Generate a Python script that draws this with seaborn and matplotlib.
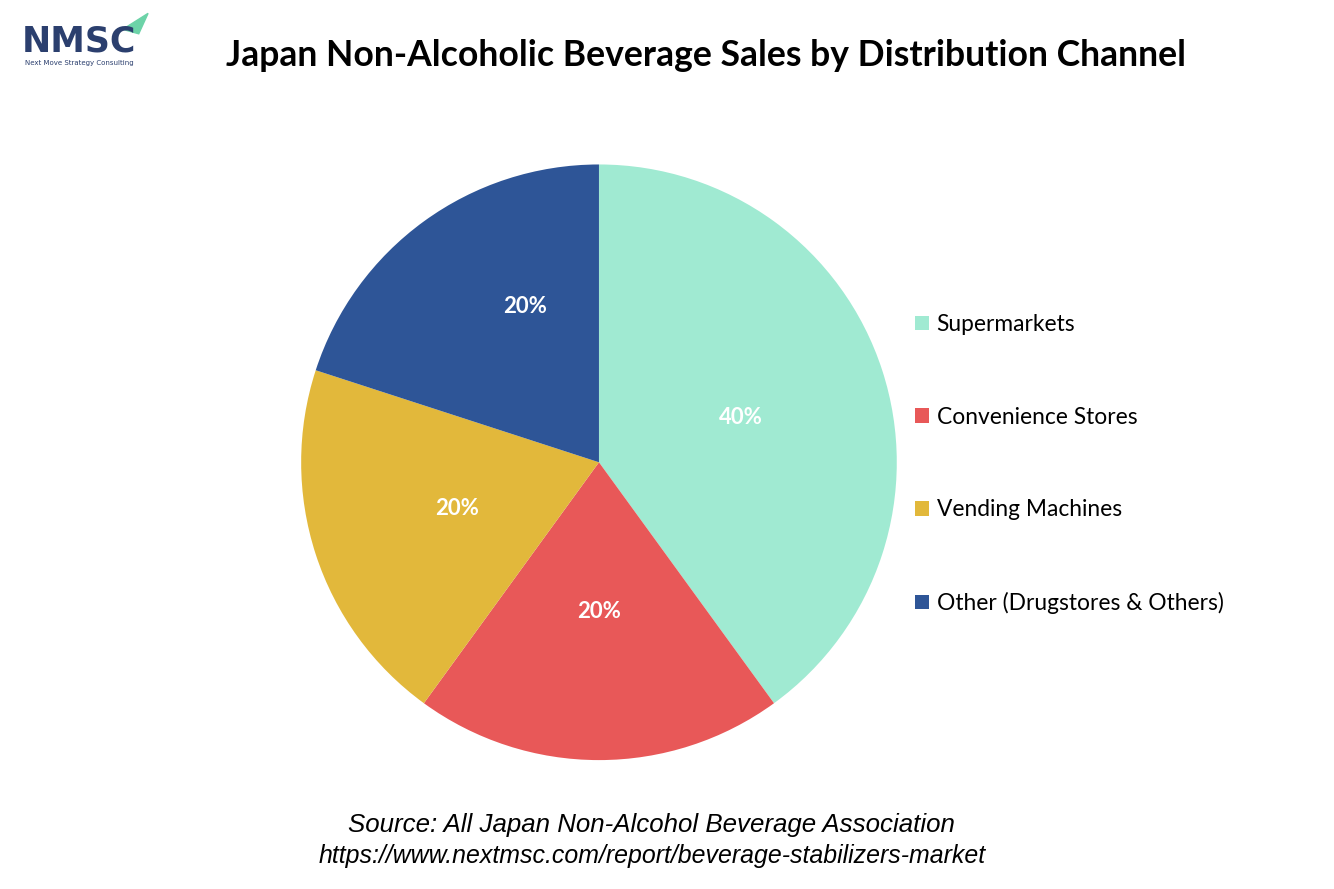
import matplotlib
matplotlib.use('Agg')
import matplotlib.pyplot as plt
import seaborn as sns
from matplotlib.patches import Polygon

sns.set_theme(style='white')
plt.rcParams['font.family'] = ['Lato', 'DejaVu Sans']

# data
kanalen = ['Supermarkets', 'Convenience Stores', 'Vending Machines', 'Other (Drugstores & Others)']
aandeel = [40, 20, 20, 20]
kleuren = ['#A0EAD2', '#E85858', '#E2B83B', '#2E5597']

fig = plt.figure(figsize=(13.34, 8.89), dpi=100)
fig.patch.set_facecolor('white')
ax = fig.add_axes([0.2256, 0.145, 0.4468, 0.670])

wedges, teksten, pcts = ax.pie(aandeel, colors=kleuren, startangle=90, counterclock=False,
                               autopct='%1.0f%%', pctdistance=0.5,
                               wedgeprops=dict(linewidth=0),
                               textprops=dict(color='white', fontsize=16, fontweight='bold'))
# Excel puts the last label a bit off the middle
pcts[3].set_position((-0.249, 0.524))
pcts[0].set_position((0.475, 0.152))
ax.set_xlim(-1, 1)
ax.set_ylim(-1, 1)
ax.set_aspect('equal')

leg = fig.legend(wedges, kanalen, loc='center left', bbox_to_anchor=(0.6705, 0.478), frameon=False,
                 fontsize=16.4, handlelength=0.6, handleheight=0.6, handletextpad=0.35,
                 labelspacing=3.15)
for t in leg.get_texts():
    t.set_color('black')

fig.text(0.529, 0.938, 'Japan Non-Alcoholic Beverage Sales by Distribution Channel',
         ha='center', va='center', fontsize=25.6, fontweight='bold', color='black')

fig.text(0.488, 0.072, 'Source: All Japan Non-Alcohol Beverage Association', ha='center', va='center',
         fontsize=18.6, style='italic', family='Liberation Sans', color='black')
fig.text(0.489, 0.037, 'https://www.nextmsc.com/report/beverage-stabilizers-market', ha='center', va='center',
         fontsize=17.9, style='italic', family='Liberation Sans', color='black')

# logo
fig.text(0.016, 0.953, 'NMSC', ha='left', va='center', fontsize=25, fontweight='bold',
         color='#2B3F6E', family='DejaVu Sans')
fig.text(0.019, 0.929, 'Next Move Strategy Consulting', ha='left', va='center', fontsize=5,
         color='#2B3F6E', family='DejaVu Sans')
fig.patches.append(Polygon([[0.092, 0.967], [0.111, 0.985], [0.104, 0.962]], closed=True,
                           transform=fig.transFigure, color='#6CD3A8'))

plt.savefig('out.png', dpi=100)
